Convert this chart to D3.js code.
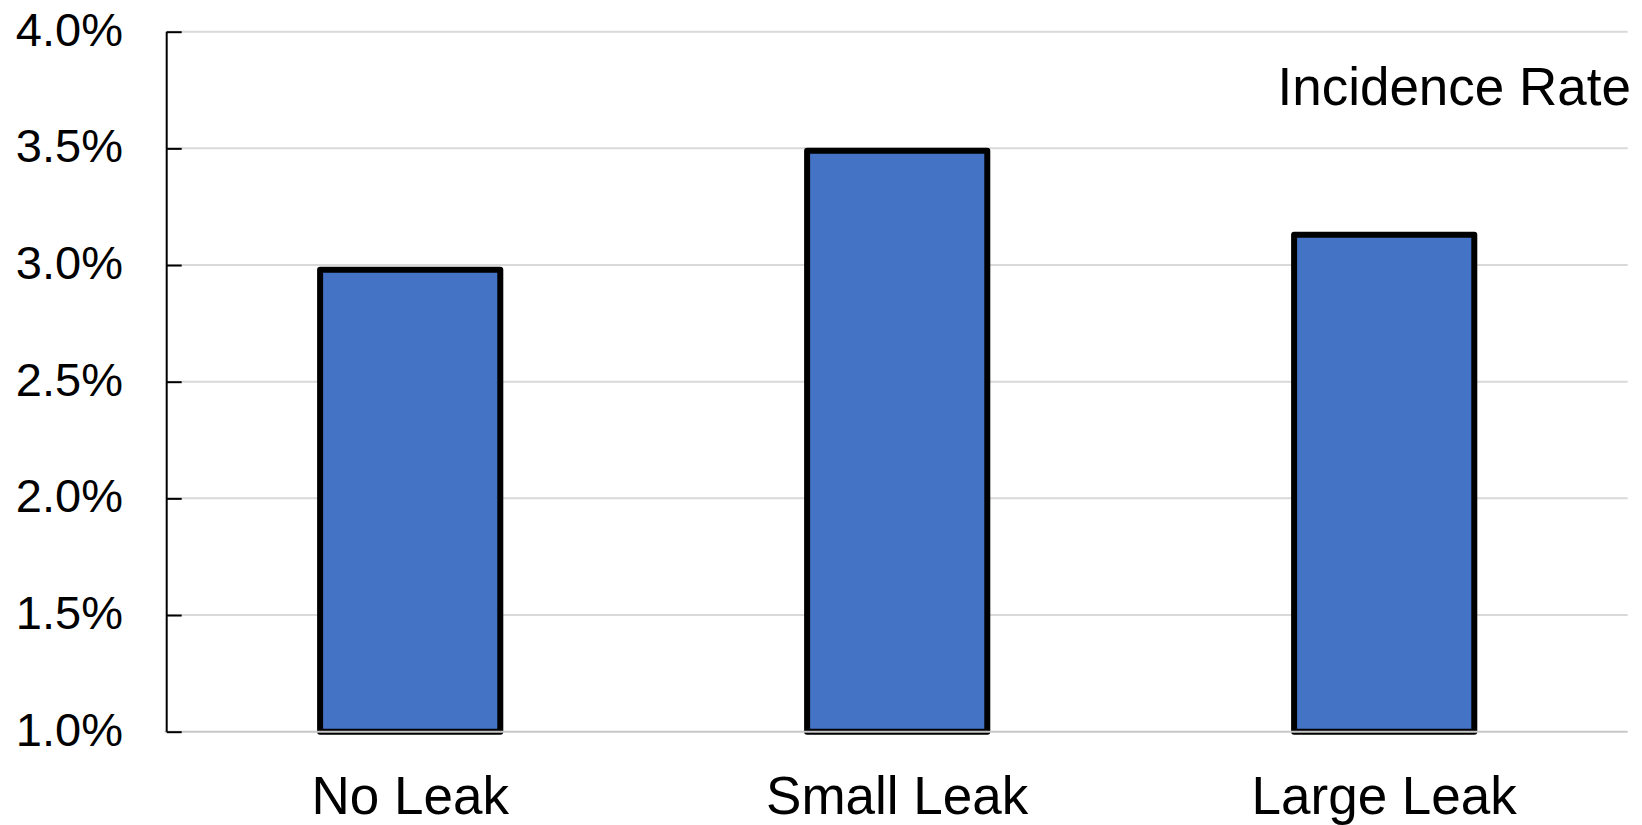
<!DOCTYPE html>
<html>
<head>
<meta charset="utf-8">
<script src="https://cdn.jsdelivr.net/npm/d3@7"></script>
<style>
  body { margin: 0; background: #fff; }
  svg { display: block; font-family: "Liberation Sans", Arial, sans-serif; }
</style>
</head>
<body>
<div id="chart"></div>
<script>
// data
const categories = ["No Leak", "Small Leak", "Large Leak"];
const rates = [2.98, 3.49, 3.13];          // percent
const yTicks = [1.0, 1.5, 2.0, 2.5, 3.0, 3.5, 4.0];
const legendLabel = "Incidence Rate";

const width = 1642, height = 825;
const plotLeft = 166.7, plotRight = 1627.7, plotTop = 31.7, plotBottom = 731.7;

const svg = d3.select("#chart").append("svg")
    .attr("width", width)
    .attr("height", height);

const x = d3.scaleBand()
    .domain(categories)
    .range([plotLeft, plotRight])
    .paddingInner(0.63)
    .paddingOuter(0.315);

const y = d3.scaleLinear()
    .domain([1.0, 4.0])
    .range([plotBottom, plotTop]);

// gridlines
svg.append("g")
    .selectAll("line")
    .data(yTicks.slice(1))
    .join("line")
    .attr("x1", plotLeft)
    .attr("x2", plotRight)
    .attr("y1", d => y(d))
    .attr("y2", d => y(d))
    .attr("stroke", "#d9d9d9")
    .attr("stroke-width", 2);

// bars
svg.append("g")
    .selectAll("rect")
    .data(rates)
    .join("rect")
    .attr("x", (d, i) => x(categories[i]))
    .attr("y", d => y(d))
    .attr("width", x.bandwidth())
    .attr("height", d => y(1.0) - y(d))
    .attr("fill", "#4472c4")
    .attr("stroke", "#000")
    .attr("stroke-width", 6)
    .attr("stroke-linejoin", "round");

// bottom axis line (light gray)
svg.append("line")
    .attr("x1", plotLeft - 2)
    .attr("x2", plotRight)
    .attr("y1", y(1.0))
    .attr("y2", y(1.0))
    .attr("stroke", "#c8c8c8")
    .attr("stroke-width", 2);

// y axis, ticks pointing inward
const yAxis = d3.axisRight(y)
    .tickValues(yTicks)
    .tickSize(15)
    .tickFormat("");
const gy = svg.append("g")
    .attr("transform", `translate(${plotLeft},0)`)
    .call(yAxis);
gy.select(".domain")
    .attr("d", `M0,${y(4.0)}V${y(1.0)}`)
    .attr("stroke", "#000")
    .attr("stroke-width", 2);
gy.selectAll(".tick line")
    .attr("stroke", "#000")
    .attr("stroke-width", 2);

// y tick labels
svg.append("g")
    .selectAll("text")
    .data(yTicks)
    .join("text")
    .attr("x", 123)
    .attr("y", d => y(d) + 14)
    .attr("text-anchor", "end")
    .attr("font-size", 47)
    .attr("fill", "#000")
    .text(d => d.toFixed(1) + "%");

// category labels
svg.append("g")
    .selectAll("text")
    .data(categories)
    .join("text")
    .attr("x", d => x(d) + x.bandwidth() / 2)
    .attr("y", 814)
    .attr("text-anchor", "middle")
    .attr("font-size", 53)
    .attr("fill", "#000")
    .text(d => d);

// series label
svg.append("text")
    .attr("x", 1631)
    .attr("y", 105)
    .attr("text-anchor", "end")
    .attr("font-size", 53)
    .attr("fill", "#000")
    .text(legendLabel);
</script>
</body>
</html>
